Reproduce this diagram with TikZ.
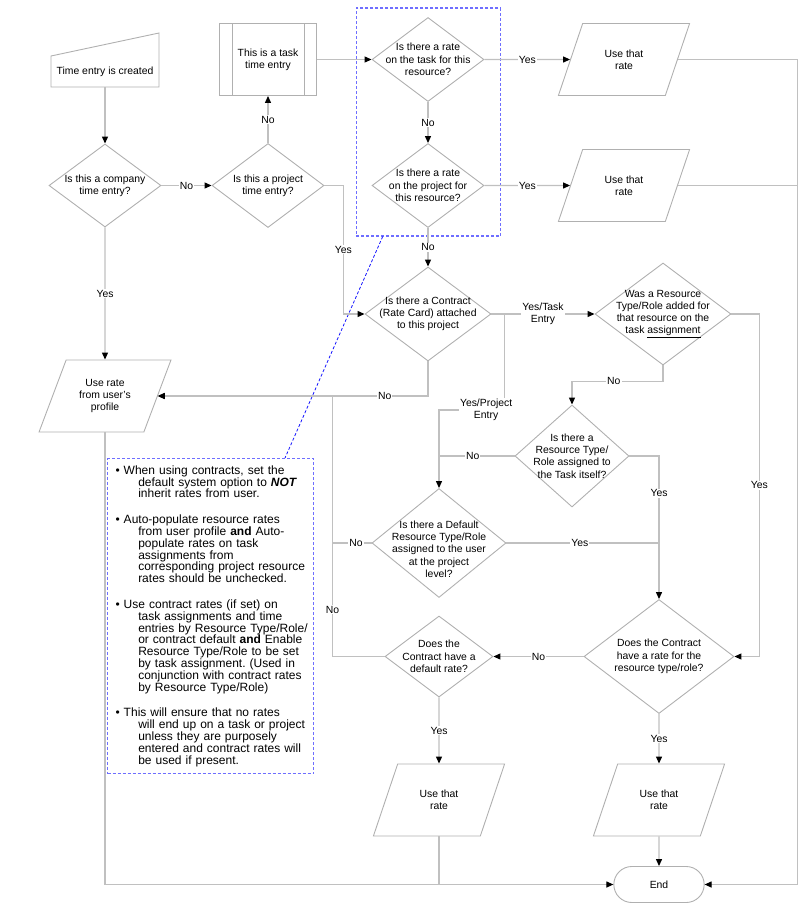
\documentclass[tikz,border=0pt]{standalone}
\usepackage{fontspec}
\setmainfont{Liberation Sans}
\usetikzlibrary{shapes.geometric,shapes.misc,arrows.meta}

\definecolor{linegray}{RGB}{192,192,192}
\definecolor{shapegray}{RGB}{176,176,176}
\definecolor{groupblue}{RGB}{110,110,255}
\definecolor{linkblue}{RGB}{20,20,255}

\tikzstyle{every node}=[font=\fontsize{10.4}{12.3}\selectfont]
\tikzstyle{decision}=[diamond,draw=shapegray,line width=0.9pt,align=center,inner sep=-50pt]
\tikzstyle{io}=[trapezium,trapezium left angle=63.4,trapezium right angle=116.6,trapezium stretches=true,draw=shapegray,line width=0.9pt,align=center,minimum width=132,minimum height=72]
\tikzstyle{process}=[rectangle,draw=shapegray,line width=0.9pt,align=center,minimum width=97,minimum height=72]
\tikzstyle{terminal}=[rounded rectangle,draw=shapegray,line width=0.9pt,minimum width=97,minimum height=36]
\tikzstyle{shapeline}=[draw=shapegray,line width=0.9pt]
\tikzstyle{edge}=[draw=linegray,line width=1.2pt]
\tikzstyle{flow}=[edge,-{Triangle[length=7pt,width=6pt,color=black]}]
\tikzstyle{answer}=[fill=white,inner sep=1pt,text=black,align=center]
\tikzstyle{groupbox}=[draw=groupblue,line width=1.1pt,dash pattern=on 3pt off 2pt]
\tikzstyle{notebox}=[groupbox,align=left,text width=190,inner xsep=8,inner ysep=7,font=\fontsize{12}{11.8}\selectfont\frenchspacing]
\tikzstyle{notelink}=[draw=linkblue,line width=0.8pt,dash pattern=on 3pt off 2pt]

\newcommand{\noteind}{\hspace*{22.7pt}}

\begin{document}
\begin{tikzpicture}[x=1pt,y=-1pt]
	\useasboundingbox (0,0) rectangle (811,905);
			% start and first questions
			\node[align=center,minimum width=108,minimum height=31,outer sep=0] (start) at (105,71.5) {Time entry is created};
			\node[decision,minimum width=112,minimum height=83] (d1) at (105,185.5) {Is this a company\\time entry?};
			\node[decision,minimum width=112,minimum height=84] (d2) at (268,185.5) {Is this a project\\time entry?};
			\node[process] (proc) at (268,59.5) {This is a task\\time entry};
			\node[decision,minimum width=112,minimum height=84] (d3) at (428,59.5) {Is there a rate\\on the task for this\\resource?};
			\node[decision,minimum width=112,minimum height=84] (d4) at (428,185.5) {Is there a rate\\on the project for\\this resource?};
			\node[io] (io1) at (624,59.5) {Use that\\rate};
			\node[io] (io2) at (624,185.5) {Use that\\rate};
			\node[groupbox,minimum width=144.5,minimum height=228] (grp) at (428.5,122) {};
			% contract part
			\node[decision,minimum width=126,minimum height=94] (d5) at (428,314) {Is there a Contract\\(Rate Card) attached\\to this project};
			\node[io] (io3) at (105,396) {Use rate\\from user’s\\profile};
			\node[decision,minimum width=136,minimum height=102] (d6) at (663,314) {Was a Resource\\Type/Role added for\\that resource on the\\task \underline{assignment}};
			\node[decision,minimum width=114,minimum height=102] (d7) at (572,456) {Is there a\\Resource Type/\\Role assigned to\\the Task itself?};
			\node[decision,minimum width=134,minimum height=109] (d8) at (439,543) {\rule{0pt}{20pt}Is there a Default\\Resource Type/Role\\assigned to the user\\at the project\\level?};
			\node[decision,minimum width=108,minimum height=81] (d9) at (439,656.5) {Does the\\Contract have a\\default rate?};
			\node[decision,minimum width=150,minimum height=114] (d10) at (659,656.5) {Does the Contract\\have a rate for the\\resource type/role?};
			\node[io] (io5) at (439,800) {Use that\\rate};
			\node[io] (io6) at (659,800) {Use that\\rate};
			\node[terminal] (end) at (659,884.5) {End};
			\node[notebox,anchor=north west] (note) at (107,458) {%
				\textbullet\ When using contracts, set the\\
				\noteind default system option to \textbf{\textit{NOT}}\\
				\noteind inherit rates from user.\\[14pt]
				\textbullet\ Auto-populate resource rates\\
				\noteind from user profile \textbf{and} Auto-\\
				\noteind populate rates on task\\
				\noteind assignments from\\
				\noteind corresponding project resource\\
				\noteind rates should be unchecked.\\[14pt]
				\textbullet\ Use contract rates (if set) on\\
				\noteind task assignments and time\\
				\noteind \mbox{entries by Resource Type/Role/}\\
				\noteind or contract default \textbf{and} Enable\\
				\noteind Resource Type/Role to be set\\
				\noteind by task assignment. (Used in\\
				\noteind conjunction with contract rates\\
				\noteind by Resource Type/Role)\\[14pt]
				\textbullet\ This will ensure that no rates\\
				\noteind will end up on a task or project\\
				\noteind unless they are purposely\\
				\noteind entered and contract rates will\\
				\noteind be used if present.\\[6pt]};
			% the two lines on the task box and the slanted top
			\draw[shapeline] ([xshift=13pt]proc.north west) -- ([xshift=13pt]proc.south west);
			\draw[shapeline] ([xshift=-13pt]proc.north east) -- ([xshift=-13pt]proc.south east);
			\draw[shapeline] (start.north west) -- (start.south west) -- (start.south east) -- ([yshift=23pt]start.north east) -- cycle;
			\path[notelink] ([xshift=27pt]grp.south west) -- ([xshift=178pt]note.north west);
			% straight connectors
			\foreach \source/\dest in {start/d1, proc/d3, io6/end}
			\path[flow] (\source) to (\dest);
			\foreach \source/\dest/\answer in {d1/d2/No, d2/proc/No, d3/d4/No, d4/d5/No, d3/io1/Yes, d4/io2/Yes, d1/io3/Yes, d10/d9/No, d9/io5/Yes, d10/io6/Yes}
			\path[flow] (\source) to node[answer] {\answer} (\dest);
			\path[flow] (d5) to node[answer] {Yes/Task\\Entry} (d6);
			% elbow connectors
			\path[flow] (d2.east) -- ++(19,0) |- node[answer,pos=.25] {Yes} (d5.west);
			\path[flow] (d5.south) |- node[answer,pos=.58] {No} (io3.east);
			\path[flow] (d9.west) -- ++(-52,0) |- node[answer,pos=.09] {No} (io3.east);
			\path[edge] (d8.west) -- node[answer,pos=.4] {No} ++(-39,0);
			\path[flow] (d5.east) -- ++(13,0) -- ++(0,96) -| node[answer,pos=.14] {Yes/Project\\Entry} (d8.north);
			\path[flow] (d6.south) -- ++(0,16) -| node[answer,pos=.27] {No} (d7.north);
			\path[flow] (d6.east) -- ++(28,0) |- node[answer,pos=.25] {Yes} (d10.east);
			\path[flow] (d7.east) -| node[answer,pos=.63] {Yes} (d10.north);
			\path[edge] (d7.west) -- node[answer,pos=.55] {No} ++(-76,0);
			\path[edge] (d8.east) -- node[answer,pos=.48] {Yes} ++(153,0);
			\path[flow] (io1.east) -- ++(119.5,0) |- (end.east);
			\path[edge] (io2.east) -- ++(119.5,0);
			\path[flow] (io3.south) |- (end.west);
			\path[edge] (io5.south) -- (io5.south |- end.west);
\end{tikzpicture}
\end{document}
